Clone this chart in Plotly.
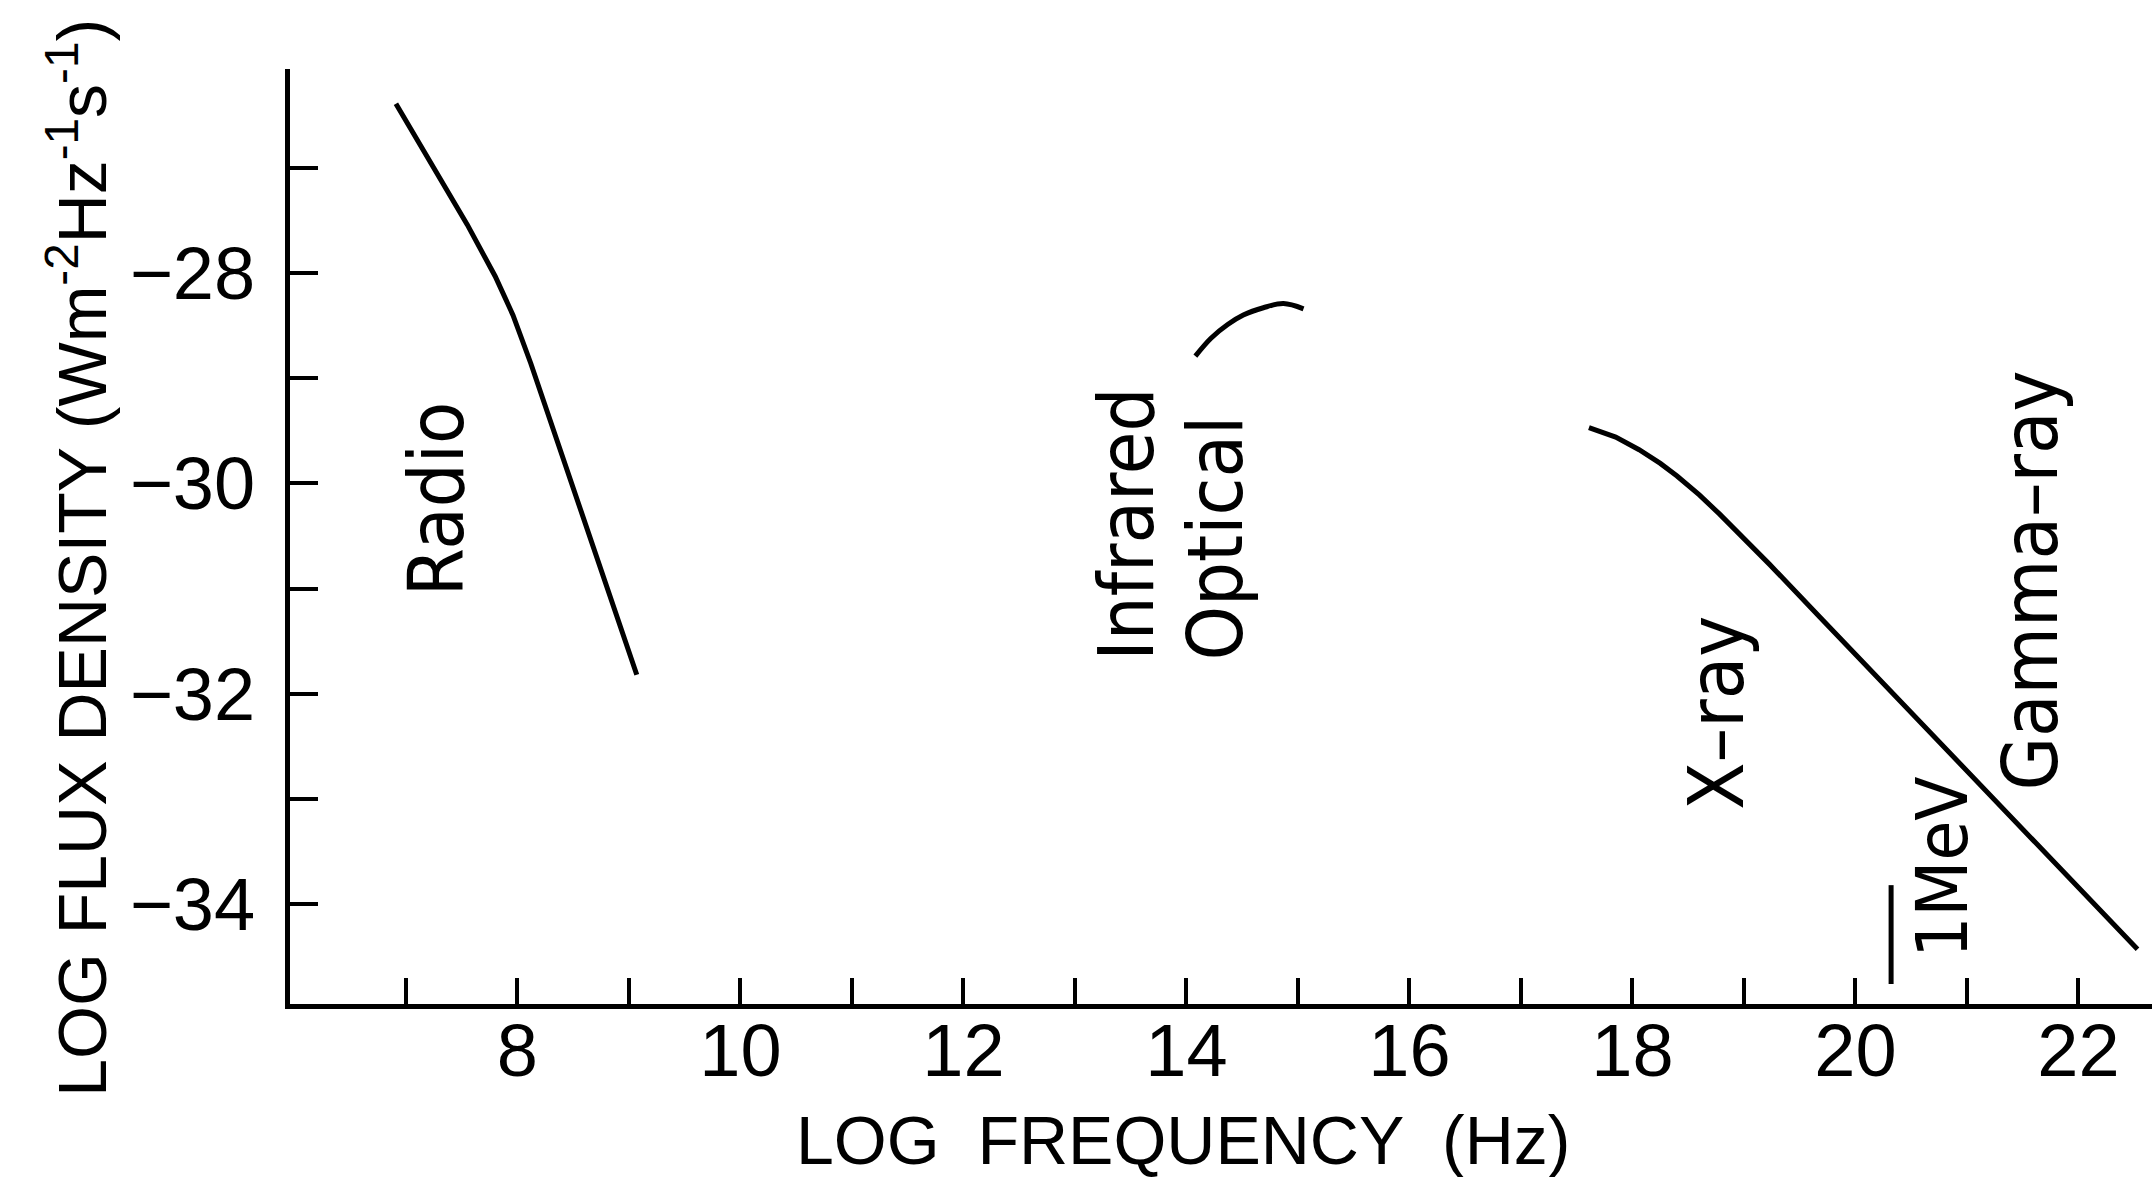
import plotly.graph_objects as go

# Broadband spectrum segments (log10 frequency in Hz, log10 flux density)
radio_x = [6.91, 7.22, 7.55, 7.80, 7.96, 8.12, 8.40, 8.75, 9.07]
radio_y = [-26.39, -26.94, -27.54, -28.03, -28.40, -28.86, -29.73, -30.81, -31.82]

ir_opt_x = [14.08, 14.22, 14.37, 14.51, 14.69, 14.87, 15.05]
ir_opt_y = [-28.79, -28.62, -28.49, -28.40, -28.33, -28.29, -28.34]

xray_x = [17.61, 17.85, 18.06, 18.25, 18.40, 18.60, 18.78, 19.00, 19.23,
          19.68, 20.13, 20.58, 21.06, 21.75, 22.53]
xray_y = [-29.47, -29.56, -29.68, -29.81, -29.93, -30.11, -30.29, -30.52, -30.77,
          -31.27, -31.77, -32.27, -32.80, -33.57, -34.43]

# 1 MeV marker
mev_x = [20.32, 20.32]
mev_y = [-33.82, -34.76]

# Axis ticks
x_tickvals = list(range(7, 23))
x_ticktext = [str(v) if v % 2 == 0 else "" for v in x_tickvals]
y_tickvals = list(range(-34, -26))
y_ticktext = ["\u2212" + str(-v) if v % 2 == 0 else "" for v in y_tickvals]

# Band labels: text, x, y, font size
band_labels = [
    ("Radio", 7.27, -30.15, 77),
    ("Infrared", 13.46, -30.39, 77),
    ("Optical", 14.26, -30.52, 77),
    ("X\u2013ray", 18.76, -32.18, 77),
    ("1MeV", 20.78, -33.65, 72),
    ("Gamma\u2013ray", 21.57, -30.92, 77),
]

LABEL_FONT = "Liberation Sans Narrow, DejaVu Sans Condensed, Arial Narrow, Liberation Sans, sans-serif"
AXIS_FONT = "Liberation Sans, Arial, Helvetica, sans-serif"

fig = go.Figure()
fig.add_trace(go.Scatter(x=radio_x, y=radio_y, mode="lines",
                         line=dict(color="black", width=5)))
fig.add_trace(go.Scatter(x=ir_opt_x, y=ir_opt_y, mode="lines",
                         line=dict(color="black", width=5, shape="spline", smoothing=1.0)))
fig.add_trace(go.Scatter(x=xray_x, y=xray_y, mode="lines",
                         line=dict(color="black", width=5)))
fig.add_trace(go.Scatter(x=mev_x, y=mev_y, mode="lines",
                         line=dict(color="black", width=5)))

for text, lx, ly, fs in band_labels:
    fig.add_annotation(x=lx, y=ly, xref="x", yref="y", text=text, showarrow=False,
                       textangle=-90, xanchor="center", yanchor="middle",
                       font=dict(family=LABEL_FONT, size=fs, color="black"))

# Axis titles
fig.add_annotation(x=13.97, y=-0.1455, xref="x", yref="paper",
                   text="LOG\u00a0 FREQUENCY\u00a0 (Hz)",
                   showarrow=False, xanchor="center", yanchor="middle",
                   font=dict(family=AXIS_FONT, size=68, color="black"))
fig.add_annotation(x=-0.114, y=0.477, xref="paper", yref="paper",
                   text="LOG FLUX DENSITY (Wm<sup>-2</sup>Hz<sup>-1</sup>s<sup>-1</sup>)",
                   showarrow=False, textangle=-90, xanchor="center", yanchor="middle",
                   font=dict(family=AXIS_FONT, size=68, color="black"))

axis_common = dict(showgrid=False, zeroline=False, showline=True, linecolor="black",
                   linewidth=5, ticks="inside", tickcolor="black", tickwidth=4,
                   tickfont=dict(family=AXIS_FONT, size=74, color="black"))

fig.update_xaxes(range=[5.96, 22.66], tickmode="array", tickvals=x_tickvals,
                 ticktext=x_ticktext, ticklen=26, ticklabelstandoff=-22, **axis_common)
fig.update_yaxes(range=[-34.95, -26.06], tickmode="array", tickvals=y_tickvals,
                 ticktext=y_ticktext, ticklen=28, ticklabelstandoff=15, **axis_common)

fig.update_layout(width=2152, height=1177, showlegend=False,
                  margin=dict(l=290, r=0, t=69, b=173),
                  paper_bgcolor="white", plot_bgcolor="white")

fig.write_html("out.html")
